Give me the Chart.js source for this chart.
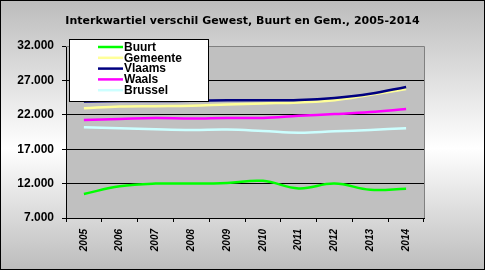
<!DOCTYPE html>
<html>
<head>
<meta charset="utf-8">
<script src="https://cdn.jsdelivr.net/npm/chart.js@4.4.1/dist/chart.umd.min.js"></script>
<style>
  html, body { margin: 0; padding: 0; background: #fff; }
  #wrap { width: 485px; height: 270px; position: relative; }
</style>
</head>
<body>
<div id="wrap"><canvas id="chart" width="485" height="270"></canvas></div>
<script>
const years = ['2005', '2006', '2007', '2008', '2009', '2010', '2011', '2012', '2013', '2014'];
const seriesNames = ['Buurt', 'Gemeente', 'Vlaams', 'Waals', 'Brussel'];
const buurt = [10500, 11600, 12000, 12000, 12100, 12400, 11300, 12000, 11100, 11250];
const gemeente = [22950, 23200, 23250, 23300, 23500, 23650, 23800, 24100, 24900, 25750];
const vlaams = [23950, 24000, 24000, 24050, 24100, 24100, 24150, 24450, 25050, 26050];
const waals = [21250, 21400, 21550, 21450, 21550, 21550, 21850, 22100, 22400, 22850];
const brussel = [20200, 20050, 19900, 19800, 19850, 19650, 19400, 19600, 19800, 20050];
const yTicks = [7000, 12000, 17000, 22000, 27000, 32000];
const title = 'Interkwartiel verschil Gewest, Buurt en Gem., 2005-2014';

const colors = ['#00ff00', '#ffff99', '#000080', '#ff00ff', '#ccffff'];
const allValues = [buurt, gemeente, vlaams, waals, brussel];
const FONT = "'Liberation Sans', Arial, sans-serif";

// background gradient, plot area fill, borders, title and legend
const frame = {
  id: 'frame',
  beforeDraw(chart) {
    const c = chart.ctx, a = chart.chartArea;
    const g = c.createLinearGradient(0, 0, 0, chart.height);
    g.addColorStop(0, '#bcbcbc');
    g.addColorStop(0.55, '#ffffff');
    g.addColorStop(1, '#bcbcbc');
    c.save();
    c.fillStyle = g;
    c.fillRect(0, 0, chart.width, chart.height);
    c.strokeStyle = '#000';
    c.lineWidth = 1;
    c.strokeRect(0.5, 0.5, chart.width - 1, chart.height - 1);
    c.fillStyle = '#c0c0c0';
    c.fillRect(a.left, a.top, a.right - a.left, a.bottom - a.top);

    c.fillStyle = '#000';
    c.font = "bold 11px 'DejaVu Sans', sans-serif";
    c.textAlign = 'center';
    c.textBaseline = 'middle';
    c.fillText(title, chart.width / 2, 21);
    c.restore();
  },
  afterDraw(chart) {
    const c = chart.ctx, a = chart.chartArea;
    c.save();
    c.strokeStyle = '#808080';
    c.lineWidth = 1;
    c.beginPath();
    c.moveTo(a.left, a.top + 0.5);
    c.lineTo(a.right + 0.5, a.top + 0.5);
    c.lineTo(a.right + 0.5, a.bottom);
    c.stroke();

    // legend box
    const x0 = 69, y0 = 39, w = 139, h = 62;
    c.fillStyle = '#fff';
    c.fillRect(x0, y0, w, h);
    c.strokeStyle = '#000';
    c.strokeRect(x0 + 0.5, y0 + 0.5, w, h);
    c.font = 'bold 12px ' + FONT;
    c.textBaseline = 'middle';
    chart.data.datasets.forEach((ds, i) => {
      const y = 47 + i * 10.8;
      c.strokeStyle = ds.borderColor;
      c.lineWidth = 2.5;
      c.beginPath();
      c.moveTo(98, y);
      c.lineTo(123, y);
      c.stroke();
      c.fillStyle = '#000';
      c.fillText(ds.label, 124, y + 0.5);
    });
    c.restore();
  }
};

new Chart(document.getElementById('chart'), {
  type: 'line',
  data: {
    labels: years,
    datasets: seriesNames.map((name, i) => ({
      label: name,
      data: allValues[i],
      borderColor: colors[i],
      backgroundColor: colors[i],
      borderWidth: 2.5,
      pointRadius: 0,
      tension: 0.4,
      fill: false,
      order: seriesNames.length - i
    }))
  },
  options: {
    responsive: false,
    animation: false,
    layout: { padding: { left: 0, right: 61, top: 46, bottom: 0 } },
    plugins: {
      legend: { display: false },
      tooltip: { enabled: false },
      title: { display: false }
    },
    scales: {
      x: {
        offset: true,
        afterFit(s) { s.height = 52; },
        grid: { drawOnChartArea: false, tickLength: 4, color: '#000', offset: true },
        border: { color: '#000', width: 1 },
        ticks: {
          color: '#000',
          minRotation: 90,
          maxRotation: 90,
          padding: 7,
          font: { family: FONT, size: 10, weight: 'bold', style: 'italic' }
        }
      },
      y: {
        min: 7000,
        max: 32000,
        afterFit(s) { s.width = 66; },
        afterBuildTicks(s) { s.ticks = yTicks.map(v => ({ value: v })); },
        grid: {
          color: ctx => (ctx.tick && ctx.tick.value === 32000 ? '#808080' : '#000'),
          tickColor: '#000',
          tickLength: 4,
          lineWidth: 1
        },
        border: { color: '#000', width: 1 },
        ticks: {
          color: '#000',
          padding: 8,
          font: { family: FONT, size: 12, weight: 'bold' },
          callback: v => (v / 1000).toFixed(3)
        }
      }
    }
  },
  plugins: [frame]
});
</script>
</body>
</html>
